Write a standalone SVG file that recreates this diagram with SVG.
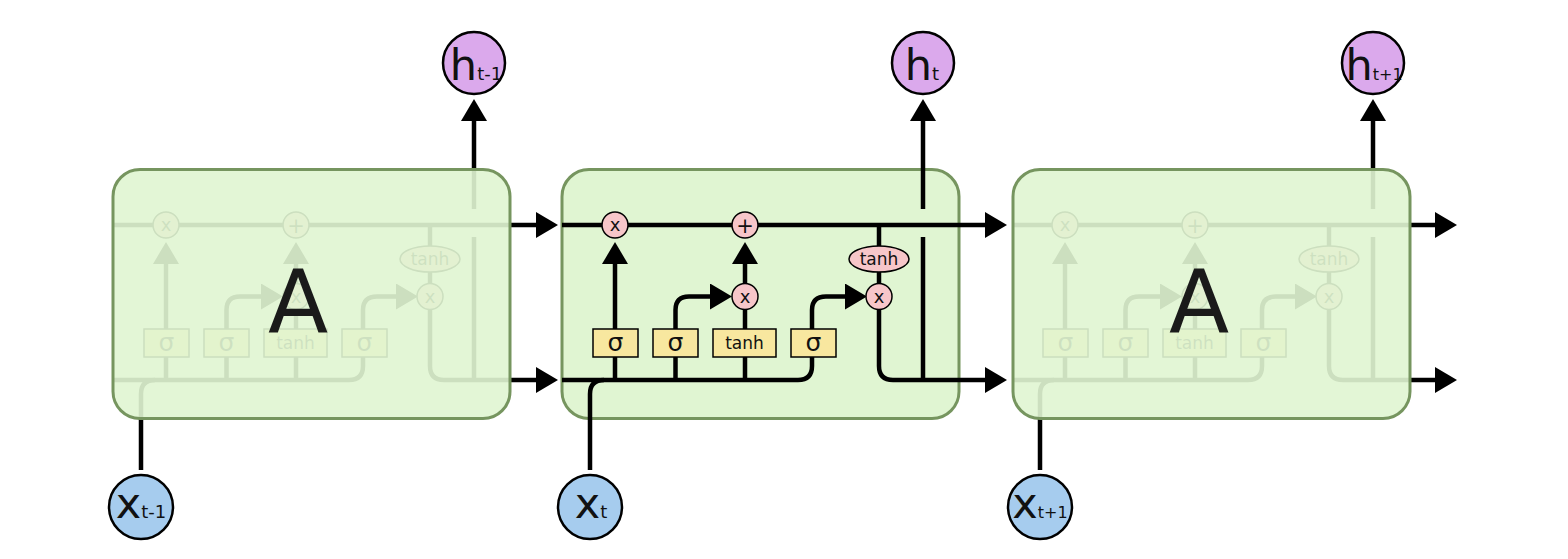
<svg xmlns="http://www.w3.org/2000/svg" xmlns:xlink="http://www.w3.org/1999/xlink" width="1568" height="559" viewBox="0 0 1568 559">
<style>
.ln{fill:none;stroke:#000;stroke-width:4.5}
.arr{marker-end:url(#ah)}
.box{fill:#e0f5d2;stroke:#76955f;stroke-width:3}
.fade{fill:#e0f5d2;fill-opacity:0.91;stroke:#76955f;stroke-width:3}
.op{fill:#f7c6c9;stroke:#000;stroke-width:1.5}
.gate{fill:#f8e79f;stroke:#000;stroke-width:1.5}
.hc{fill:#dba9ec;stroke:#000;stroke-width:2.5}
.xc{fill:#a6ccee;stroke:#000;stroke-width:2.5}
text{font-family:"DejaVu Sans","Liberation Sans",sans-serif;fill:#111;text-anchor:middle}
.t18{font-size:18px}
.t17{font-size:17px}
.sig{font-size:25px}
.big{font-size:88px;fill:#1a1a1a}
.main{font-size:43px}
.sub{font-size:18px}
.sub2{font-size:16px}
</style>
<defs>
<marker id="ah" viewBox="0 0 22 26" refX="0" refY="13" markerWidth="22" markerHeight="26" markerUnits="userSpaceOnUse" orient="auto">
<path d="M0,0 L22,13 L0,26 Z" fill="#000"/>
</marker>
<g id="cell-lines">
<path class="ln arr" d="M562,225 H985"/>
<path class="ln" d="M562,380 H798 Q812,380 812,366 V357"/>
<path class="ln" d="M590,470 V394 Q590,380 604,380"/>
<path class="ln" d="M615,380 V357 M675.5,380 V357 M745,380 V357"/>
<path class="ln arr" d="M615,329 V264"/>
<path class="ln arr" d="M675.5,329 V310 Q675.5,296.5 689,296.5 H710"/>
<path class="ln arr" d="M745,329 V264"/>
<path class="ln arr" d="M812,329 V310 Q812,296.5 826,296.5 H845"/>
<path class="ln" d="M879,225 V300"/>
<path class="ln arr" d="M879,296 V366 Q879,380 893,380 H985"/>
<path class="ln" d="M923,380 V237"/>
<path class="ln arr" d="M923,209 V121"/>
</g>
<g id="cell-ops">
<circle class="op" cx="615" cy="225" r="13"/><text class="t18" x="615" y="231">x</text>
<circle class="op" cx="745" cy="225" r="13"/><text x="745" y="232.5" style="font-size:21px">+</text>
<circle class="op" cx="745" cy="296.5" r="13"/><text class="t18" x="745" y="302.5">x</text>
<ellipse class="op" cx="879" cy="259" rx="30" ry="13"/><text class="t17" x="879" y="265">tanh</text>
<circle class="op" cx="879" cy="296.5" r="13"/><text class="t18" x="879" y="302.5">x</text>
<rect class="gate" x="593" y="329" width="45" height="28"/><text class="sig" x="615.5" y="351">σ</text>
<rect class="gate" x="653" y="329" width="45" height="28"/><text class="sig" x="675.5" y="351">σ</text>
<rect class="gate" x="713" y="329" width="63" height="28"/><text class="t17" x="744.5" y="348.5">tanh</text>
<rect class="gate" x="791" y="329" width="45" height="28"/><text class="sig" x="813.5" y="351">σ</text>
</g>
</defs>

<g id="cell-mid-box"><rect class="box" x="562" y="169.5" width="397" height="249" rx="27"/></g>

<g id="connectors">
<use href="#cell-lines" transform="translate(-449,0)"/>
<use href="#cell-lines"/>
<use href="#cell-lines" transform="translate(450,0)"/>
</g>

<g id="gates">
<use href="#cell-ops" transform="translate(-449,0)"/>
<use href="#cell-ops"/>
<use href="#cell-ops" transform="translate(450,0)"/>
</g>

<g id="cell-left">
<rect class="fade" x="113" y="169.5" width="397" height="249" rx="27"/>
<text class="big" x="298" y="332">A</text>
</g>
<g id="cell-right">
<rect class="fade" x="1013" y="169.5" width="397" height="249" rx="27"/>
<text class="big" x="1199" y="332">A</text>
</g>

<g id="h-prev"><circle class="hc" cx="474" cy="63" r="31"/><text x="476" y="80"><tspan class="main">h</tspan><tspan class="sub">t-1</tspan></text></g>
<g id="h-cur"><circle class="hc" cx="923" cy="63" r="31"/><text x="922" y="80"><tspan class="main">h</tspan><tspan class="sub">t</tspan></text></g>
<g id="h-next"><circle class="hc" cx="1373" cy="63" r="31"/><text x="1374" y="80"><tspan class="main">h</tspan><tspan class="sub2">t+1</tspan></text></g>

<g id="x-prev"><circle class="xc" cx="141" cy="507" r="32"/><text x="141" y="518"><tspan class="main">x</tspan><tspan class="sub">t-1</tspan></text></g>
<g id="x-cur"><circle class="xc" cx="590" cy="507" r="32"/><text x="591" y="518"><tspan class="main">x</tspan><tspan class="sub">t</tspan></text></g>
<g id="x-next"><circle class="xc" cx="1040" cy="507" r="32"/><text x="1040" y="518"><tspan class="main">x</tspan><tspan class="sub2">t+1</tspan></text></g>
</svg>
